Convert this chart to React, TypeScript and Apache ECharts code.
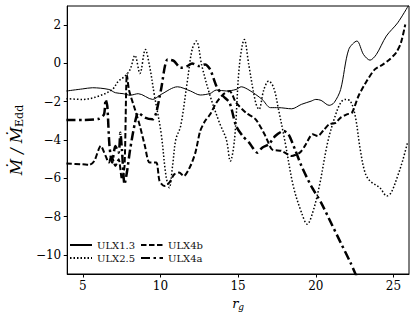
import React, { useEffect, useRef } from "react";
import * as echarts from "echarts";

const xTicks = [5, 10, 15, 20, 25];
const yTicks = [-10, -8, -6, -4, -2, 0, 2];

const ulx13X = [3.95, 5.0, 5.63, 6.68, 7.1, 7.6, 8.05, 8.57, 9.5, 10.04, 11.1, 11.93, 12.56, 13.2, 13.6, 14.24, 14.87, 15.2, 15.7, 16.55, 17.08, 17.6, 18.45, 19.07, 19.7, 20.0, 20.34, 20.86, 21.18, 21.6, 22.12, 22.65, 23.07, 23.49, 23.9, 24.54, 25.27, 25.97];
const ulx13Y = [-1.44, -1.33, -1.27, -1.36, -1.53, -1.58, -1.66, -1.58, -1.88, -1.62, -1.22, -1.44, -1.65, -1.57, -1.39, -1.44, -1.36, -1.22, -1.39, -1.88, -2.31, -2.31, -2.37, -2.14, -1.97, -1.88, -1.93, -2.19, -2.05, -1.36, 0.73, 1.17, 0.47, 0.17, 0.47, 1.43, 2.12, 3.03];

const ulx25X = [3.95, 5.0, 6.05, 6.9, 7.3, 7.73, 8.05, 8.36, 8.68, 9.03, 9.3, 9.62, 10.04, 10.36, 10.57, 10.78, 10.99, 11.3, 11.72, 12.04, 12.31, 12.67, 13.2, 13.8, 14.24, 14.5, 14.77, 15.08, 15.4, 15.7, 16.13, 16.34, 16.66, 16.97, 17.29, 17.6, 18.03, 18.55, 19.08, 19.45, 19.8, 20.23, 20.76, 21.18, 21.6, 21.9, 22.23, 22.54, 22.86, 23.17, 23.49, 24.12, 24.58, 24.85, 25.27, 25.62, 25.9];
const ulx25Y = [-1.84, -1.88, -1.7, -1.36, -0.92, -0.66, -0.31, 0.42, -0.52, 0.73, -0.14, -1.7, -3.62, -5.88, -6.49, -5.36, -3.97, -3.27, -1.0, 0.73, 1.17, -0.14, -1.7, -3.1, -3.97, -5.1, -3.97, -0.14, 1.25, -0.14, -2.05, -2.4, -1.36, -0.92, -1.27, -2.4, -4.14, -6.4, -7.79, -8.4, -7.79, -6.4, -4.14, -2.92, -2.05, -1.88, -1.97, -2.75, -4.49, -5.7, -6.14, -6.49, -6.92, -6.75, -5.88, -5.0, -4.14];

const ulx4bX = [3.95, 5.0, 5.42, 5.74, 6.16, 6.47, 6.68, 6.85, 7.1, 7.31, 7.52, 7.69, 7.84, 7.98, 8.36, 8.68, 9.0, 9.3, 9.73, 9.94, 10.25, 10.57, 10.88, 11.2, 11.51, 11.93, 12.25, 12.56, 12.88, 13.2, 13.6, 14.03, 14.45, 14.87, 15.5, 16.13, 16.76, 17.18, 17.8, 18.45, 18.97, 19.3, 19.8, 20.13, 20.55, 20.86, 21.28, 21.6, 22.0, 22.33, 22.75, 23.28, 23.8, 24.33, 24.75, 25.17, 25.48, 25.76];
const ulx4bY = [-5.23, -5.27, -5.3, -5.1, -4.31, -4.83, -5.18, -4.83, -5.36, -5.0, -6.05, -5.36, -0.57, -1.4, -2.4, -3.27, -4.31, -5.18, -5.18, -6.14, -6.4, -6.23, -5.8, -5.7, -5.88, -5.36, -4.66, -3.53, -3.0, -2.66, -2.05, -1.62, -1.44, -2.05, -2.57, -2.92, -3.79, -4.49, -4.57, -4.83, -4.66, -4.31, -3.7, -3.79, -3.44, -3.18, -3.1, -2.83, -2.66, -2.57, -1.7, -0.92, -0.31, -0.05, 0.21, 0.56, 1.08, 2.03];

const ulx4aX = [3.95, 5.0, 6.05, 6.37, 6.47, 6.58, 6.72, 6.89, 7.1, 7.31, 7.42, 7.52, 7.69, 7.84, 8.05, 8.36, 8.57, 9.0, 9.5, 9.73, 10.04, 10.46, 10.88, 11.3, 11.72, 12.04, 12.46, 12.88, 13.2, 13.6, 14.03, 14.45, 14.87, 15.29, 15.71, 16.24, 16.55, 16.97, 17.39, 17.92, 18.24, 18.66, 19.08, 19.7, 20.34, 20.97, 21.6, 22.23, 22.54, 22.75];
const ulx4aY = [-2.96, -2.96, -2.89, -2.66, -1.88, -2.23, -4.31, -5.18, -4.31, -4.66, -3.62, -4.49, -6.31, -5.7, -4.49, -3.1, -2.57, -2.83, -2.92, -2.57, -1.36, 0.21, 0.12, -0.23, -0.14, 0.0, -0.14, -0.05, -0.31, -1.18, -1.7, -2.05, -3.27, -3.79, -4.14, -4.66, -4.4, -4.23, -3.79, -3.53, -3.7, -4.49, -5.36, -6.4, -7.27, -8.31, -9.36, -10.4, -10.97, -11.4];

const zip = (xs: number[], ys: number[]) => xs.map((x, i) => [x, ys[i]]);
const FONT = "DejaVu Serif";
const minus = (v: number) => String(v).replace("-", "\u2212");

export default function App() {
  const ref = useRef<HTMLDivElement>(null);
  useEffect(() => {
    const chart = echarts.init(ref.current!, undefined, { renderer: "svg" });
    const line = (name: string, data: number[][], width: number, type: any, smooth: number) => ({
      name,
      type: "line",
      data,
      symbol: "none",
      showSymbol: false,
      smooth,
      clip: true,
      lineStyle: { color: "#000", width, type },
      itemStyle: { color: "#000" },
    });
    const legendBase = {
      orient: "vertical",
      top: 240,
      padding: 0,
      itemWidth: 22,
      itemHeight: 10,
      itemGap: 3,
      itemStyle: { opacity: 0 },
      textStyle: { fontFamily: FONT, fontSize: 10, color: "#111" },
    };
    chart.setOption({
      animation: false,
      backgroundColor: "#fff",
      grid: { left: 60, right: 7, top: 6, bottom: 44, show: true, borderColor: "#000", borderWidth: 1 },
      xAxis: {
        type: "value",
        min: 4,
        max: 26,
        name: "{i|r}{s|g}",
        nameLocation: "middle",
        nameGap: 22,
        nameTextStyle: {
          rich: {
            i: { fontFamily: FONT, fontStyle: "italic", fontSize: 13, color: "#000" },
            s: { fontFamily: FONT, fontStyle: "italic", fontSize: 9, color: "#000", padding: [6, 0, 0, 0] },
          },
        },
        splitLine: { show: false },
        axisLine: { show: true, onZero: false, lineStyle: { color: "#000", width: 1 } },
        axisTick: { show: true, length: 3.5, customValues: xTicks, lineStyle: { color: "#000" } },
        axisLabel: { customValues: xTicks, fontFamily: FONT, fontSize: 12, color: "#000", margin: 6 },
      },
      yAxis: {
        type: "value",
        min: -11,
        max: 3,
        name: "{i|\u1E40 / \u1E40}{s|Edd}",
        nameLocation: "middle",
        nameRotate: 90,
        nameGap: 37,
        nameTextStyle: {
          rich: {
            i: { fontFamily: FONT, fontStyle: "italic", fontSize: 16, color: "#000" },
            s: { fontFamily: FONT, fontSize: 11, color: "#000", padding: [7, 0, 0, 0] },
          },
        },
        splitLine: { show: false },
        axisLine: { show: true, onZero: false, lineStyle: { color: "#000", width: 1 } },
        axisTick: { show: true, length: 3.5, customValues: yTicks, lineStyle: { color: "#000" } },
        axisLabel: { customValues: yTicks, fontFamily: FONT, fontSize: 12, color: "#000", margin: 6, formatter: (v: number) => minus(v) },
      },
      legend: [
        { ...legendBase, data: ["ULX1.3", "ULX2.5"], left: 69 },
        { ...legendBase, data: ["ULX4b", "ULX4a"], left: 140 },
      ],
      series: [
        line("ULX1.3", zip(ulx13X, ulx13Y), 1, "solid", 0.3),
        line("ULX2.5", zip(ulx25X, ulx25Y), 1.5, [1.5, 2], 0.35),
        line("ULX4b", zip(ulx4bX, ulx4bY), 2, [5.5, 2.5], 0.25),
        line("ULX4a", zip(ulx4aX, ulx4aY), 2.5, [9, 3.5, 2.5, 3.5], 0.25),
      ],
    });
    return () => chart.dispose();
  }, []);
  return <div ref={ref} style={{ position: "fixed", left: 0, top: 0, width: 416, height: 318 }} />;
}
